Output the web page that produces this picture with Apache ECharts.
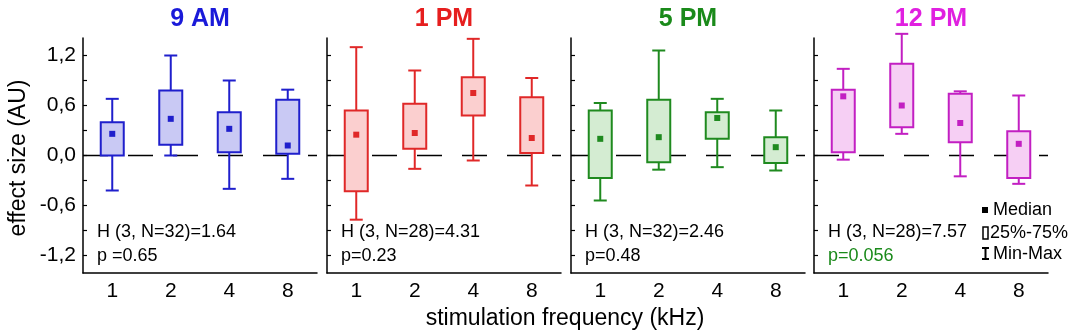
<!DOCTYPE html>
<html>
<head>
<meta charset="utf-8">
<script src="https://cdn.jsdelivr.net/npm/echarts@6/dist/echarts.min.js"></script>
<style>
  html, body { margin: 0; padding: 0; background: #fff; }
  #chart { width: 1084px; height: 336px; }
</style>
</head>
<body>
<div id="chart"></div>
<script>
// stimulation frequencies (kHz)
var freqs = ["1", "2", "4", "8"];
var titles = ["9 AM", "1 PM", "5 PM", "12 PM"];

// each row: [min, 25%, median, 75%, max]
var box9am = [[-0.42, 0.0, 0.26, 0.40, 0.68], [0.0, 0.13, 0.44, 0.78, 1.2], [-0.40, 0.04, 0.32, 0.52, 0.9], [-0.28, 0.02, 0.12, 0.67, 0.79]];
var box1pm = [[-0.77, -0.43, 0.25, 0.54, 1.3], [-0.16, 0.08, 0.27, 0.62, 1.02], [-0.06, 0.48, 0.75, 0.94, 1.4], [-0.36, 0.03, 0.21, 0.70, 0.93]];
var box5pm = [[-0.54, -0.27, 0.20, 0.54, 0.63], [-0.17, -0.08, 0.22, 0.67, 1.26], [-0.14, 0.20, 0.45, 0.52, 0.68], [-0.18, -0.09, 0.10, 0.22, 0.54]];
var box12pm = [[-0.05, 0.04, 0.71, 0.79, 1.04], [0.26, 0.34, 0.60, 1.10, 1.46], [-0.25, 0.16, 0.39, 0.74, 0.77], [-0.34, -0.27, 0.14, 0.29, 0.72]];

var hStats = ["H (3, N=32)=1.64", "H (3, N=28)=4.31", "H (3, N=32)=2.46", "H (3, N=28)=7.57"];
var pStats = ["p =0.65", "p=0.23", "p=0.48", "p=0.056"];

var yTicks = [-1.2, -0.9, -0.6, -0.3, 0, 0.3, 0.6, 0.9, 1.2];
var yLabels = [-1.2, -0.6, 0, 0.6, 1.2];

var panels = [box9am, box1pm, box5pm, box12pm];
var lineColors = ["#1f1fcc", "#e02828", "#1f8a1f", "#c21fc2"];
var fillColors = ["#c9c9f4", "#fbcfcf", "#d4ecd2", "#f6cff4"];
var titleColors = ["#1a1ad9", "#e61e1e", "#1a8a1a", "#e020e0"];
var gridLeft = [83, 327, 571, 814];
var font = "Liberation Sans, Arial, sans-serif";

var chart = echarts.init(document.getElementById("chart"));

function makeBoxRenderer(color, fill) {
  return function (params, api) {
    var i = api.value(0);
    var pMin = api.coord([i, api.value(1)]);
    var pQ1 = api.coord([i, api.value(2)]);
    var pMed = api.coord([i, api.value(3)]);
    var pQ3 = api.coord([i, api.value(4)]);
    var pMax = api.coord([i, api.value(5)]);
    var cx = pMin[0];
    var bw = 23, cw = 13, ms = 6;
    var st = { stroke: color, lineWidth: 2, fill: null };
    return {
      type: "group",
      children: [
        { type: "line", shape: { x1: cx, y1: pQ3[1], x2: cx, y2: pMax[1] }, style: st },
        { type: "line", shape: { x1: cx - cw / 2, y1: pMax[1], x2: cx + cw / 2, y2: pMax[1] }, style: st },
        { type: "line", shape: { x1: cx, y1: pQ1[1], x2: cx, y2: pMin[1] }, style: st },
        { type: "line", shape: { x1: cx - cw / 2, y1: pMin[1], x2: cx + cw / 2, y2: pMin[1] }, style: st },
        { type: "rect", shape: { x: cx - bw / 2, y: pQ3[1], width: bw, height: pQ1[1] - pQ3[1] },
          style: { fill: fill, stroke: color, lineWidth: 2 } },
        { type: "rect", shape: { x: cx - ms / 2, y: pMed[1] - ms / 2, width: ms, height: ms },
          style: { fill: color } }
      ]
    };
  };
}

function renderZero(params, api) {
  var cs = params.coordSys;
  var y = api.coord([0, 0])[1];
  return {
    type: "line",
    shape: { x1: cs.x, y1: y, x2: cs.x + cs.width, y2: y },
    style: { stroke: "#000", lineWidth: 1.5, lineDash: [25, 20] }
  };
}

var grids = [], xAxes = [], yAxes = [], series = [], graphics = [];

panels.forEach(function (rows, k) {
  grids.push({ left: gridLeft[k], top: 38, width: 234, height: 235 });
  xAxes.push({
    type: "category", gridIndex: k, data: freqs,
    axisLine: { onZero: false, lineStyle: { color: "#000", width: 1.5 } },
    axisTick: { show: false },
    axisLabel: { color: "#000", fontSize: 21, fontFamily: font, margin: 8 }
  });
  yAxes.push({
    type: "value", gridIndex: k, min: -1.41, max: 1.41,
    splitLine: { show: false },
    axisLine: { show: true, onZero: false, lineStyle: { color: "#000", width: 1.5 } },
    axisTick: { show: true, inside: true, length: 4, customValues: yTicks, lineStyle: { color: "#000", width: 1.2 } },
    axisLabel: {
      show: k === 0, customValues: yLabels, color: "#000", fontSize: 21, fontFamily: font, margin: 7,
      formatter: function (v) { return v.toFixed(1).replace(".", ","); }
    }
  });
  series.push({
    type: "custom", xAxisIndex: k, yAxisIndex: k, z: 1, silent: true,
    renderItem: renderZero, data: [[0, 0]]
  });
  series.push({
    type: "custom", xAxisIndex: k, yAxisIndex: k, z: 2, clip: false,
    renderItem: makeBoxRenderer(lineColors[k], fillColors[k]),
    encode: { x: 0, y: [1, 2, 3, 4, 5] },
    data: rows.map(function (r, i) { return [i].concat(r); })
  });

  var cx = gridLeft[k] + 117;
  graphics.push({
    type: "text", x: cx, y: 19,
    style: { text: titles[k], fill: titleColors[k], font: "bold 25px " + font, textAlign: "center", textVerticalAlign: "middle" }
  });
  graphics.push({
    type: "text", x: gridLeft[k] + 14, y: 232,
    style: { text: hStats[k], fill: "#000", font: "18px " + font, textVerticalAlign: "middle" }
  });
  graphics.push({
    type: "text", x: gridLeft[k] + 14, y: 256,
    style: { text: pStats[k], fill: k === 3 ? "#1a8a1a" : "#000", font: "18px " + font, textVerticalAlign: "middle" }
  });
});

// axis names
graphics.push({
  type: "text", x: 565, y: 319,
  style: { text: "stimulation frequency (kHz)", fill: "#000", font: "23px " + font, textAlign: "center", textVerticalAlign: "middle" }
});
graphics.push({
  type: "text", x: 19, y: 158, rotation: Math.PI / 2,
  style: { text: "effect size (AU)", fill: "#000", font: "23px " + font, textAlign: "center", textVerticalAlign: "middle" }
});

// key
graphics.push({ type: "rect", shape: { x: 982, y: 207, width: 6, height: 6 }, style: { fill: "#000" } });
graphics.push({ type: "text", x: 993, y: 210, style: { text: "Median", fill: "#000", font: "18px " + font, textVerticalAlign: "middle" } });
graphics.push({ type: "rect", shape: { x: 983, y: 227, width: 5, height: 12 }, style: { fill: null, stroke: "#000", lineWidth: 1.5 } });
graphics.push({ type: "text", x: 990, y: 233, style: { text: "25%-75%", fill: "#000", font: "18px " + font, textVerticalAlign: "middle" } });
graphics.push({ type: "line", shape: { x1: 985.5, y1: 248, x2: 985.5, y2: 259 }, style: { stroke: "#000", lineWidth: 2 } });
graphics.push({ type: "line", shape: { x1: 982, y1: 248, x2: 989, y2: 248 }, style: { stroke: "#000", lineWidth: 2 } });
graphics.push({ type: "line", shape: { x1: 982, y1: 259, x2: 989, y2: 259 }, style: { stroke: "#000", lineWidth: 2 } });
graphics.push({ type: "text", x: 993, y: 254, style: { text: "Min-Max", fill: "#000", font: "18px " + font, textVerticalAlign: "middle" } });

chart.setOption({
  animation: false,
  grid: grids,
  xAxis: xAxes,
  yAxis: yAxes,
  series: series,
  graphic: graphics
});
</script>
</body>
</html>
